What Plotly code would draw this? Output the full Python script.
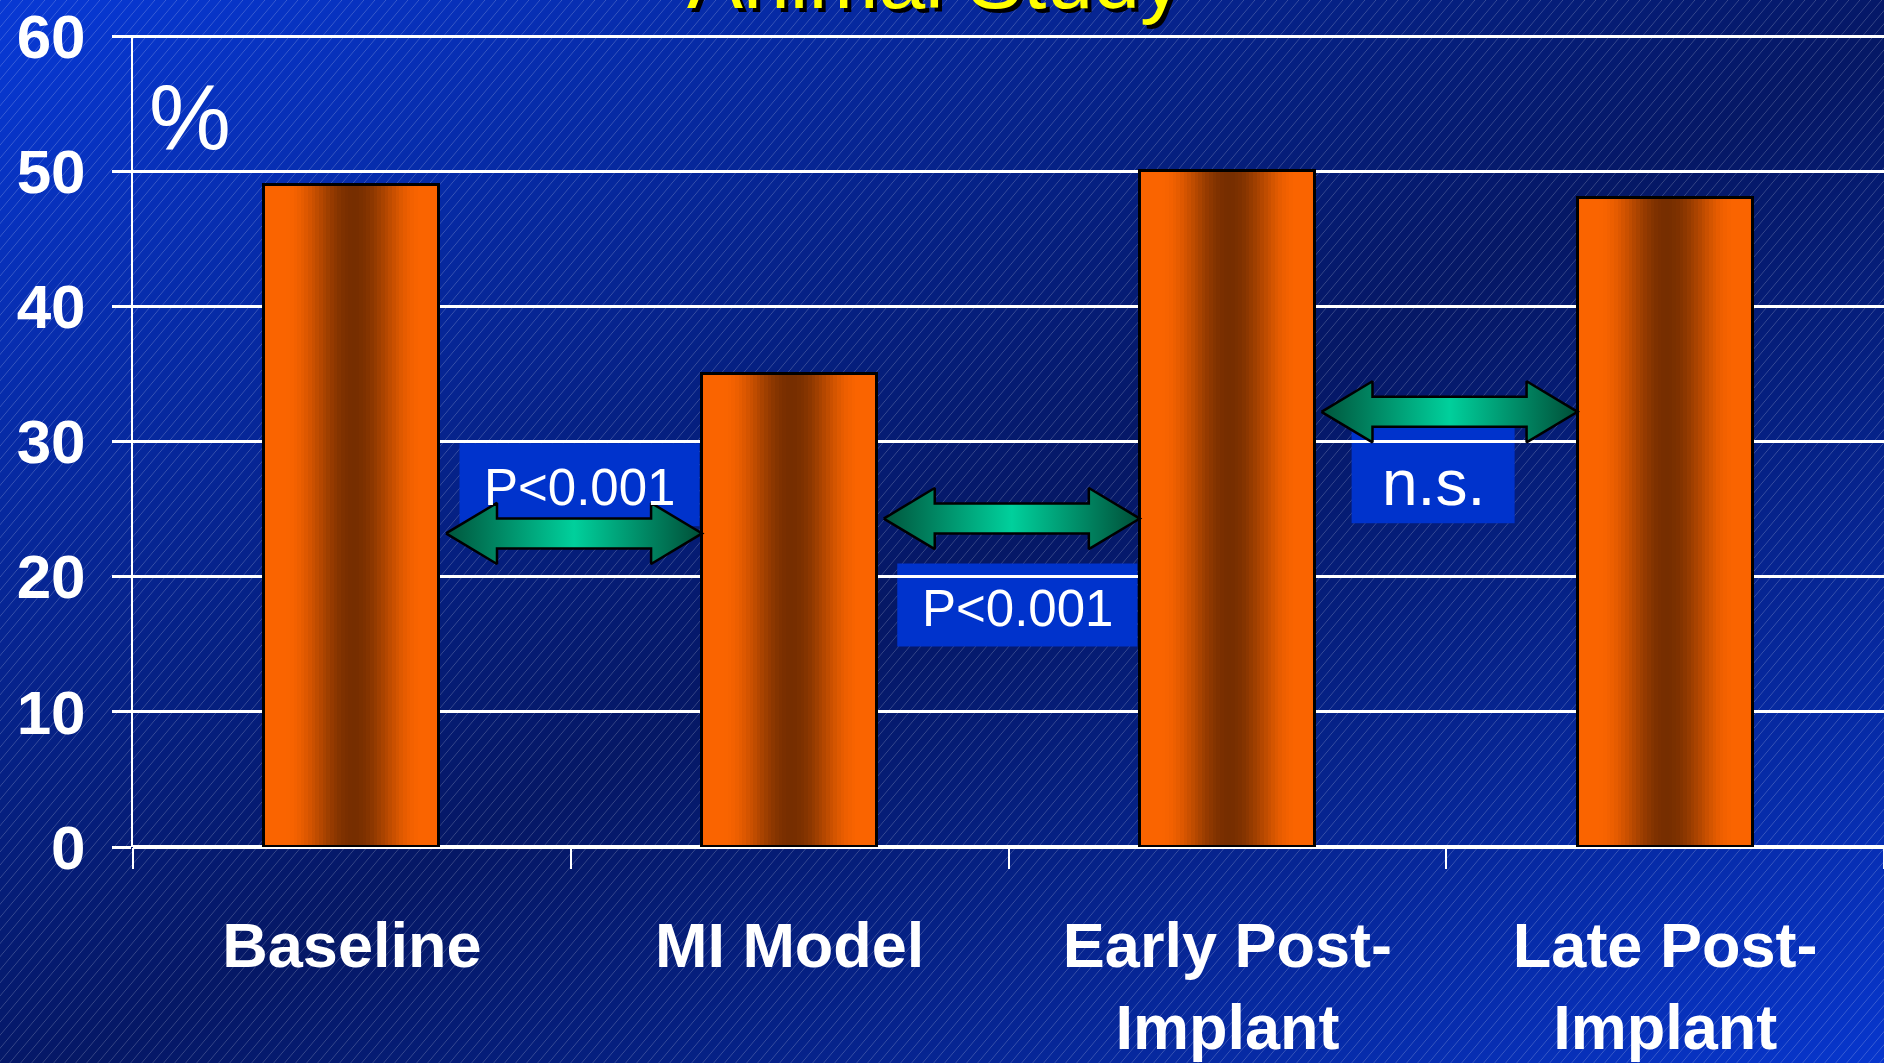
import base64
import struct
import zlib

import numpy as np
import plotly.graph_objects as go

# ---- data -------------------------------------------------------------
categories = ["Baseline", "MI Model", "Early Post-Implant", "Late Post-Implant"]
tick_labels = ["Baseline", "MI Model", "Early Post-<br>Implant", "Late Post-<br>Implant"]
values = [49, 35, 50, 48]

# pairwise comparisons between neighbouring groups
cmp_from = [0, 1, 2]
cmp_arrow_y = [23.2, 24.3, 32.2]
cmp_labels = ["P&lt;0.001", "P&lt;0.001", "n.s."]
cmp_label_x = [0.52, 1.52, 2.47]
cmp_label_y = [26.8, 17.9, 27.5]
cmp_font_size = [51, 51, 64]
cmp_text_shift = [-3, -3, -8]
cmp_box_w = [240, 240, 163]
cmp_box_h = [83, 83, 96]

y_ticks = [0, 10, 20, 30, 40, 50, 60]
title_text = "Animal Study"
unit_text = "%"

# ---- geometry of the page ---------------------------------------------
W, H = 1884, 1063
ML, MR, MT, MB = 133, 0, 35, 216
PW, PH = W - ML - MR, H - MT - MB
FONT = "Liberation Sans, Arial, sans-serif"


def png_data_uri(rgb):
    h, w, _ = rgb.shape
    rows = np.concatenate([np.zeros((h, 1), np.uint8), rgb.reshape(h, w * 3)], axis=1)

    def chunk(tag, data):
        return (struct.pack(">I", len(data)) + tag + data
                + struct.pack(">I", zlib.crc32(tag + data) & 0xFFFFFFFF))

    png = (b"\x89PNG\r\n\x1a\n"
           + chunk(b"IHDR", struct.pack(">IIBBBBB", w, h, 8, 2, 0, 0, 0))
           + chunk(b"IDAT", zlib.compress(rows.tobytes(), 6))
           + chunk(b"IEND", b""))
    return "data:image/png;base64," + base64.b64encode(png).decode()


def slide_background():
    yy, xx = np.mgrid[0:H, 0:W].astype(np.float32)
    u = (xx / W + yy / H) / 2.0
    f = np.clip(np.abs(u - 0.52) * 2.0, 0, 1) ** 1.1
    dark = np.array([5, 24, 102], np.float32)
    bright = np.array([8, 56, 210], np.float32)
    img = dark + (bright - dark) * f[..., None]
    # fine diagonal pinstripes
    slope = 1.19
    period = 11.0 * slope
    v = np.mod(slope * xx + yy, period)
    d = np.minimum(v, period - v) / np.hypot(slope, 1.0)
    a = np.clip(1.0 - d / 0.7, 0, 1) * 0.2
    img = img * (1 - a[..., None]) + 255.0 * a[..., None]
    return np.clip(img, 0, 255).astype(np.uint8)


def bar_shade(t):
    orange = np.array([250, 100, 0])
    brown = np.array([118, 46, 0])
    d = abs(t - 0.51) / 0.39
    k = 0.0 if d >= 1 else 0.5 * (1 + np.cos(np.pi * d))
    c = orange * (1 - k) + brown * k
    return "rgb(%d,%d,%d)" % tuple(int(round(x)) for x in c)


fig = go.Figure()

# ---- bars: vertical strips give the cylinder shading ------------------
bar_w = 0.4
n_strips = 48
step = bar_w / n_strips
for i in range(n_strips):
    off = -bar_w / 2 + i * step
    wid = min(step * 1.35, bar_w / 2 - off)
    fig.add_trace(go.Bar(
        x=categories, y=values, width=wid, offset=off,
        marker=dict(color=bar_shade((i + 0.5) / n_strips), line=dict(width=0)),
        hoverinfo="skip", showlegend=False,
    ))
fig.add_trace(go.Bar(
    x=categories, y=values, width=bar_w,
    marker=dict(color="rgba(0,0,0,0)", line=dict(color="black", width=3)),
    showlegend=False, hovertemplate="%{x}: %{y}%<extra></extra>",
))

# ---- double-headed comparison arrows ----------------------------------
head_len = 0.1165
head_half = 2.26
shaft_half = 1.11
for i, yc in zip(cmp_from, cmp_arrow_y):
    xl, xr = i + 0.215, i + 0.8
    xs = [xl, xl + head_len, xl + head_len, xr - head_len, xr - head_len, xr,
          xr - head_len, xr - head_len, xl + head_len, xl + head_len, xl]
    ys = [yc, yc + head_half, yc + shaft_half, yc + shaft_half, yc + head_half, yc,
          yc - head_half, yc - shaft_half, yc - shaft_half, yc - head_half, yc]
    fig.add_trace(go.Scatter(
        x=xs, y=ys, xaxis="x2", yaxis="y", mode="lines", fill="toself",
        line=dict(color="black", width=2.5),
        fillgradient=dict(type="horizontal",
                          colorscale=[[0, "#00553c"], [0.5, "#00d09c"], [1, "#004e37"]]),
        hoverinfo="skip", showlegend=False,
    ))

shapes = []
annotations = []
for lx, ly, lab, fs, ys_, bw, bh in zip(cmp_label_x, cmp_label_y, cmp_labels, cmp_font_size,
                                        cmp_text_shift, cmp_box_w, cmp_box_h):
    shapes.append(dict(
        type="rect", xref="x", yref="y", layer="below",
        xsizemode="pixel", ysizemode="pixel", xanchor=lx, yanchor=ly,
        x0=-bw / 2, x1=bw / 2, y0=-bh / 2, y1=bh / 2,
        fillcolor="#0033cc", line=dict(width=0),
    ))
    annotations.append(dict(
        x=lx, y=ly, xref="x2", yref="y", text=lab, showarrow=False,
        font=dict(family=FONT, size=fs, color="white"), yshift=ys_,
    ))

annotations.append(dict(
    x=-0.37, y=54, xref="x2", yref="y", text=unit_text, showarrow=False,
    font=dict(family=FONT, size=92, color="white"),
))

# title with drop shadow, running off the top of the slide
for color, dx, dy in (("black", 4, -4), ("#ffff00", 0, 0)):
    annotations.append(dict(
        x=(934 - ML) / PW, y=1, xref="paper", yref="paper", yanchor="bottom",
        text=title_text, showarrow=False, xshift=dx, yshift=7 + dy,
        font=dict(family=FONT, size=84, color=color),
    ))

fig.update_layout(
    width=W, height=H,
    margin=dict(l=ML, r=MR, t=MT, b=MB, autoexpand=False),
    paper_bgcolor="#062090", plot_bgcolor="rgba(0,0,0,0)",
    barmode="overlay", bargap=0,
    showlegend=False,
    images=[dict(
        source=png_data_uri(slide_background()), xref="paper", yref="paper",
        x=-ML / PW, y=1 + MT / PH, sizex=W / PW, sizey=H / PH,
        xanchor="left", yanchor="top", sizing="stretch", layer="below",
    )],
    xaxis=dict(
        type="category", range=[-0.5, 3.5], categoryorder="array", categoryarray=categories,
        tickmode="array", tickvals=categories, ticktext=tick_labels,
        tickson="boundaries", ticks="outside", ticklen=21, tickwidth=2, tickcolor="white",
        showgrid=False, showline=False, zeroline=False,
        tickfont=dict(family=FONT, size=63, color="white", weight="bold"),
        ticklabelstandoff=56,
    ),
    xaxis2=dict(overlaying="x", range=[-0.5, 3.5], visible=False, fixedrange=True),
    yaxis=dict(
        range=[0, 60.08], tickmode="array", tickvals=y_ticks,
        ticks="outside", ticklen=19, tickwidth=3, tickcolor="white",
        showgrid=True, gridcolor="white", gridwidth=3,
        zeroline=True, zerolinecolor="white", zerolinewidth=4,
        showline=True, linecolor="white", linewidth=2,
        tickfont=dict(family=FONT, size=62, color="white", weight="bold"),
        ticklabelstandoff=14, ticklabeloverflow="allow",
    ),
    shapes=shapes,
    annotations=annotations,
)

fig.write_html("out.html")
